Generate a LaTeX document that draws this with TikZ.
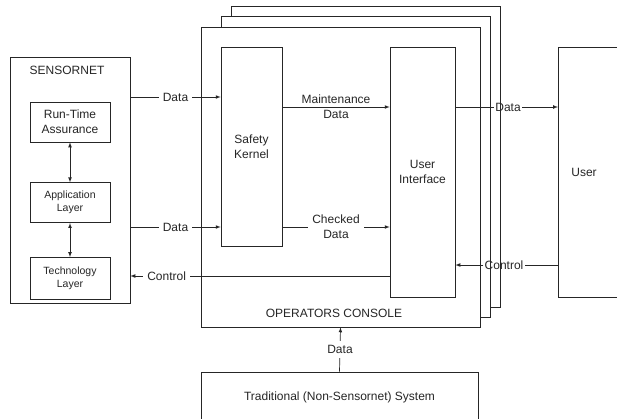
\documentclass[tikz,border=0pt]{standalone}
\usepackage{fontspec}
\setmainfont{Liberation Sans}
\usetikzlibrary{arrows,positioning}
\tikzstyle{blk} = [rectangle, draw, fill=white, align=center, inner sep=0pt]
\tikzstyle{small} = [font=\fontsize{10.5}{13}\selectfont]
\tikzstyle{lbl} = [fill=white, inner sep=4pt, align=center]

\begin{document}
\begin{tikzpicture}[x=1pt,y=-1pt,>=latex,line width=0.7pt,color=black!85,
                    font=\fontsize{12}{15}\selectfont]
  \useasboundingbox (0,0) rectangle (617,418);
  \clip (0,0) rectangle (617,418);

  % sensornet side
  \node[blk,minimum width=120pt,minimum height=246pt] (sn) at (70,180) {};
  \node (sntitle) at (67,70) {SENSORNET};
  \node[blk,minimum width=80pt,minimum height=40pt] (rta) at (70,122) {Run-Time\\Assurance};
  \node[blk,small,minimum width=80pt,minimum height=40pt,below=40pt of rta] (app) {Application\\Layer};
  \node[blk,small,minimum width=80pt,minimum height=42pt,below=34pt of app] (tech) {Technology\\Layer};

  % operators console (stacked)
  \node[blk,minimum width=269pt,minimum height=301pt] (cons3) at (365.5,156.5) {};
  \node[blk,minimum width=269pt,minimum height=301pt] (cons2) at (355.5,166.5) {};
  \node[blk,minimum width=279pt,minimum height=300pt] (cons) at (340.5,177) {};
  \node (constitle) at (334,313) {OPERATORS CONSOLE};
  \node[blk,minimum width=61pt,minimum height=199pt] (sk) at (251.5,146.5) {Safety\\Kernel};
  \node[blk,minimum width=65pt,minimum height=250pt] (ui) at (422.5,172) {User\\Interface};

  % user and legacy system
  \node[blk,minimum width=120pt,minimum height=250pt,anchor=west] (user) at (558,172) {};
  \node (usertxt) at (584,172) {User};
  \node[blk,minimum width=277pt,minimum height=50pt] (trad) at (339.5,397) {Traditional (Non-Sensornet) System};

  \coordinate (d1) at (0,97);
  \coordinate (d2) at (0,227);
  \coordinate (c1) at (0,276);
  \coordinate (m1) at (0,107);
  \coordinate (c2) at (0,265);

  \draw[<->] (rta) -- (app);
  \draw[<->] (app) -- (tech);
  \draw[->] (sn.east |- d1) -- node[lbl] {Data} (sk.west |- d1);
  \draw[->] (sn.east |- d2) -- node[lbl] {Data} (sk.west |- d2);
  \draw[->] (ui.west |- c1) -- node[lbl,pos=0.86] {Control} (sn.east |- c1);
  \draw[->] (sk.east |- m1) -- node[align=center] {Maintenance\\Data} (ui.west |- m1);
  \draw[->] (sk.east |- d2) -- node[lbl] {Checked\\Data} (ui.west |- d2);

  \node[inner sep=1pt] (rdata) at (508,107) {Data};
  \draw (ui.east |- m1) -- (rdata.west);
  \draw[->] (rdata.east) -- (user.west |- m1);
  \node[inner sep=1pt] (rctl) at (504,265) {Control};
  \draw (user.west |- c2) -- (rctl.east);
  \draw[->] (rctl.west) -- (ui.east |- c2);

  \draw[->] (trad.north) -- node[lbl] {Data} (cons.south);
\end{tikzpicture}
\end{document}
